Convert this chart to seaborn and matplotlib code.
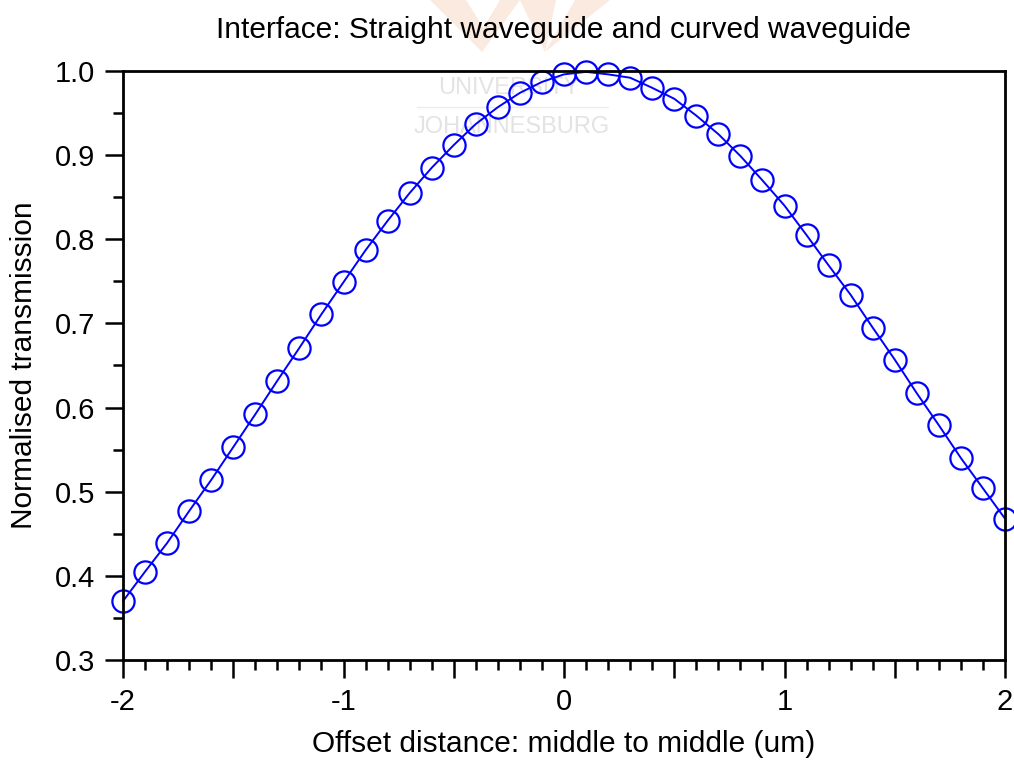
import numpy as np
import pandas as pd
import matplotlib
matplotlib.use("Agg")
import matplotlib.pyplot as plt
import seaborn as sns
from matplotlib.ticker import MultipleLocator, FixedLocator
from matplotlib.patches import Polygon

offset = [-2.0, -1.9, -1.8, -1.7, -1.6, -1.5, -1.4, -1.3, -1.2, -1.1, -1.0,
          -0.9, -0.8, -0.7, -0.6, -0.5, -0.4, -0.3, -0.2, -0.1, 0.0,
          0.1, 0.2, 0.3, 0.4, 0.5, 0.6, 0.7, 0.8, 0.9, 1.0,
          1.1, 1.2, 1.3, 1.4, 1.5, 1.6, 1.7, 1.8, 1.9, 2.0]
transmission = [0.370, 0.405, 0.439, 0.477, 0.514, 0.553, 0.592, 0.632, 0.671, 0.711, 0.749,
                0.787, 0.822, 0.855, 0.885, 0.912, 0.937, 0.957, 0.974, 0.987, 0.996,
                0.999, 0.996, 0.992, 0.980, 0.967, 0.947, 0.925, 0.899, 0.870, 0.840,
                0.805, 0.769, 0.734, 0.695, 0.657, 0.617, 0.579, 0.540, 0.504, 0.468]
xtick_values = [-2, -1.5, -1, -0.5, 0, 0.5, 1, 1.5, 2]
xtick_labels = ["-2", "", "-1", "", "0", "", "1", "", "2"]
ytick_values = [0.3, 0.4, 0.5, 0.6, 0.7, 0.8, 0.9, 1.0]
ytick_labels = ["0.3", "0.4", "0.5", "0.6", "0.7", "0.8", "0.9", "1.0"]

df = pd.DataFrame({"offset": offset, "transmission": transmission})

sns.set_style("ticks")
plt.rcParams['font.family'] = ['Liberation Sans', 'DejaVu Sans']
plt.rcParams['text.color'] = 'black'
plt.rcParams['axes.labelcolor'] = 'black'

W, H = 1014, 761
fig = plt.figure(figsize=(W/100, H/100), dpi=100)
ax = fig.add_axes([123/W, 1-660/H, (1005-123)/W, (660-71)/H])

# faint watermark (logo behind everything)
for pts in ([(430, 0), (466, 0), (490, 38), (482, 52)],
            [(520, 0), (500, 0), (482, 30), (482, 52)],
            [(520, 0), (556, 0), (545, 52)],
            [(575, 0), (610, 0), (545, 52)]):
    fig.patches.append(Polygon([(x/W, 1-y/H) for x, y in pts], closed=True,
                               transform=fig.transFigure, facecolor="#fbeae0",
                               edgecolor="none", zorder=-5))
fig.text(509/W, 1-88/H, "UNIVERSITY", color="#e3e3e3", fontsize=17,
         ha="center", va="center", zorder=-4)
fig.add_artist(plt.Line2D([417/W, 608/W], [1-107/H, 1-107/H], transform=fig.transFigure,
                          color="#ececec", linewidth=1, zorder=-4))
fig.text(512/W, 1-127/H, "JOHANNESBURG", color="#e3e3e3", fontsize=17,
         ha="center", va="center", zorder=-4)

sns.lineplot(data=df, x="offset", y="transmission", ax=ax, color="#0000ff",
             linewidth=1.4, marker="o", markersize=16, markerfacecolor="none",
             markeredgecolor="#0000ff", markeredgewidth=1.6, clip_on=False)
ax.patch.set_alpha(0)

ax.set_xlim(-2, 2)
ax.set_ylim(0.3, 1.0)
ax.xaxis.set_major_locator(FixedLocator(xtick_values))
ax.set_xticklabels(xtick_labels)
ax.xaxis.set_minor_locator(MultipleLocator(0.1))
ax.yaxis.set_major_locator(FixedLocator(ytick_values))
ax.set_yticklabels(ytick_labels)
ax.yaxis.set_minor_locator(MultipleLocator(0.05))

ax.tick_params(axis="both", which="major", direction="out", length=13, width=1.8,
               labelsize=21, color="black", labelcolor="black", pad=7)
ax.tick_params(axis="both", which="minor", direction="out", length=7, width=1.8, color="black")
ax.tick_params(top=False, right=False, which="both")

for s in ax.spines.values():
    s.set_linewidth(2)
    s.set_color("black")
    s.set_visible(True)

ax.set_title("Interface: Straight waveguide and curved waveguide", fontsize=21.5,
             pad=24, color="black")
ax.set_xlabel("Offset distance: middle to middle (um)", fontsize=21.5, labelpad=10)
ax.set_ylabel("Normalised transmission", fontsize=21.5, labelpad=12)

fig.savefig("out.png", dpi=100)
